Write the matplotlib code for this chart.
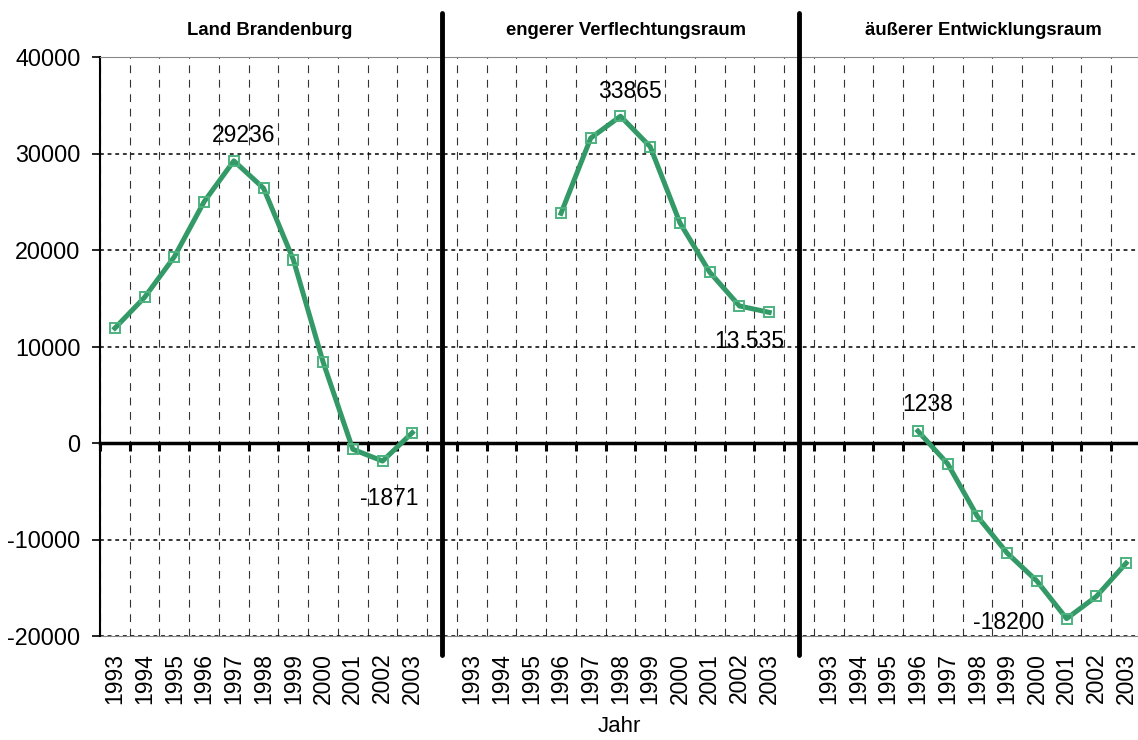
import numpy as np
import matplotlib
matplotlib.use("Agg")
import matplotlib.pyplot as plt
import matplotlib.transforms as mtransforms

plt.rcParams["font.family"] = ["Liberation Sans", "DejaVu Sans"]
plt.rcParams["axes.unicode_minus"] = False

years = list(range(1993, 2004))
titles = ["Land Brandenburg", "engerer Verflechtungsraum", "äußerer Entwicklungsraum"]
nan = np.nan
brandenburg = [11900, 15100, 19300, 25000, 29236, 26400, 19000, 8400, -650, -1871, 1070]
verflechtung = [nan, nan, nan, 23800, 31600, 33865, 30700, 22800, 17700, 14200, 13535]
entwicklung = [nan, nan, nan, 1238, -2150, -7600, -11400, -14300, -18200, -15900, -12450]
series = [brandenburg, verflechtung, entwicklung]

# labelled points: (group, year, text, offset in points)
labels = [
    (0, 1997, "29236", (7, 18)),
    (0, 2002, "-1871", (5, -27)),
    (1, 1998, "33865", (7, 18)),
    (1, 2003, "13.535", (-14, -21)),
    (2, 1996, "1238", (7, 19)),
    (2, 2001, "-18200", (-42, -3)),
]

green = "#339966"
n = len(years)
step = n + 1  # one empty slot between the groups

fig = plt.figure(figsize=(11.38, 7.4), dpi=100)
ax = fig.add_axes([100 / 1138, 104 / 740, 1038 / 1138, 579 / 740])
trans = mtransforms.blended_transform_factory(ax.transData, ax.transAxes)

centers = []
tick_labels = []
for g, vals in enumerate(series):
    x = np.arange(n) + g * step
    centers += list(x)
    tick_labels += [str(y) for y in years]
    ax.plot(x, vals, color=green, lw=3.6, marker="s", ms=7.5,
            mfc="none", mec="#4cb37f", mew=1.4, zorder=4, clip_on=False)
    ax.text(g * step + (n - 1) / 2 + 0.2, 1.045, titles[g], transform=trans,
            ha="center", va="center", fontsize=13.3, fontweight="bold")

for g, yr, txt, off in labels:
    i = years.index(yr)
    ax.annotate(txt, (g * step + i, series[g][i]), xytext=off, textcoords="offset points",
                ha="center", va="center", fontsize=16.5, zorder=5)

ax.set_xlim(-0.5, 34.4)
ax.set_ylim(-20000, 40000)
ax.set_yticks(np.arange(-20000, 40001, 10000))
ax.tick_params(axis="y", labelsize=16.8, length=6, width=1.2, pad=8)
ax.grid(axis="y", which="major", color="black", linestyle=(0, (2.5, 2.5)), lw=1.1)

# category axis crossing at zero
ax.set_xticks([])
bounds = np.arange(-0.5, 34.5, 1)
ax.set_xticks(bounds, minor=True)
ax.tick_params(axis="x", which="minor", direction="out", length=6, width=2.2, labelbottom=False)
ax.grid(axis="x", which="minor", color="#333333", linestyle=(0, (7, 6)), lw=0.8)
ax.spines["bottom"].set_position(("data", 0))
ax.spines["bottom"].set_linewidth(2.5)
ax.spines["bottom"].set_zorder(3)
ax.spines["left"].set_linewidth(1.5)
ax.spines["top"].set_color("#888888")
ax.spines["right"].set_visible(False)

sec = ax.secondary_xaxis("bottom")
sec.set_xticks(centers, tick_labels, rotation=90)
sec.tick_params(length=0, pad=12, labelsize=16.5)
sec.spines["bottom"].set_color("#888888")
sec.set_xlabel("Jahr", fontsize=16, labelpad=9)

# thick separators between the groups
for g in range(1, len(series)):
    xs = g * step - 1
    ax.plot([xs, xs], [-0.033, 1.076], color="black", lw=3.5, transform=trans,
            clip_on=False, solid_capstyle="round", zorder=6)

fig.savefig("out.png", dpi=100)
